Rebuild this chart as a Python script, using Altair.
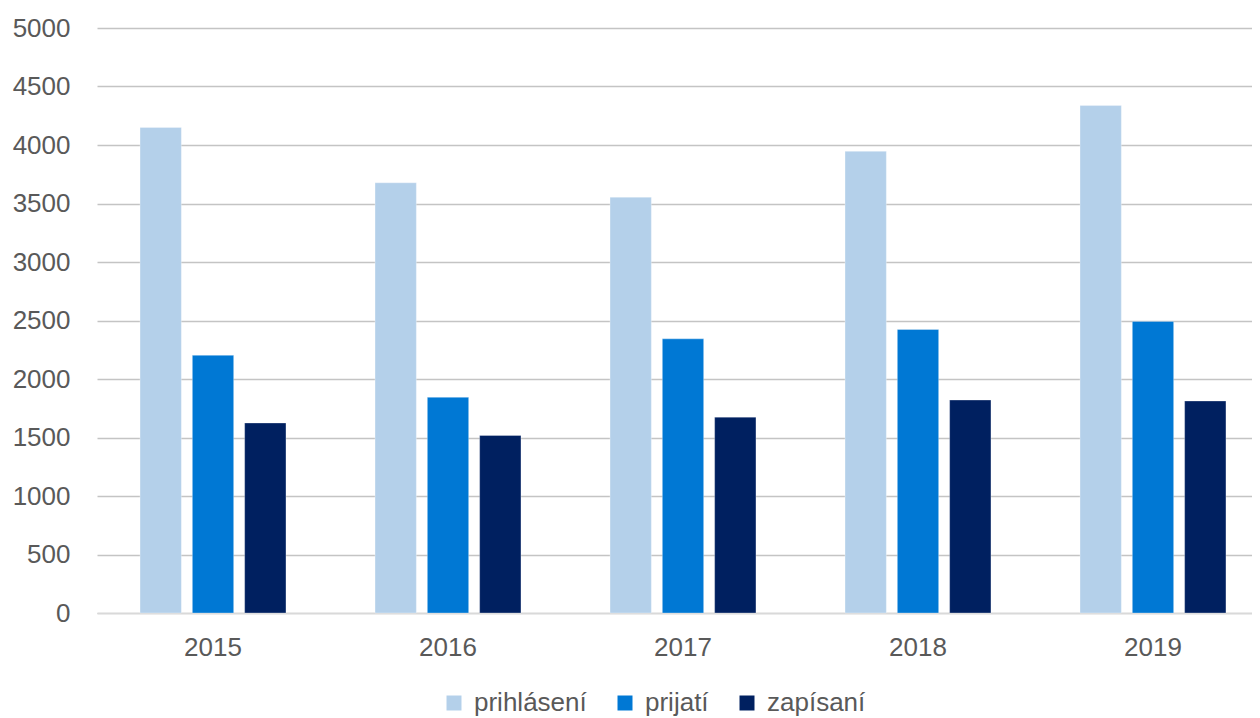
import altair as alt
import pandas as pd

years = ["2015", "2016", "2017", "2018", "2019"]
series = ["prihlásení", "prijatí", "zapísaní"]
prihlaseni = [4150, 3677, 3554, 3946, 4337]
prijati = [2202, 1843, 2343, 2423, 2492]
zapisani = [1624, 1517, 1674, 1820, 1812]
colors = ["#B4D0EA", "#0078D4", "#002060"]

rows = []
for i, y in enumerate(years):
    for s, vals in zip(series, [prihlaseni, prijati, zapisani]):
        rows.append({"rok": y, "skupina": s, "pocet": vals[i]})
df = pd.DataFrame(rows)

FONT = "Liberation Sans"
TXT = "#595959"

chart = alt.Chart(df).mark_bar(stroke="white", strokeWidth=0.6, strokeOpacity=0.5).encode(
    x=alt.X("rok:N", sort=years, title=None,
            scale=alt.Scale(paddingInner=0.379, paddingOuter=0.147, align=0.623),
            axis=alt.Axis(labelAngle=0, ticks=False, domainColor="#D9D9D9", domainWidth=1.5,
                          labelPadding=21, labelFontSize=26, labelColor=TXT, labelFont=FONT,
                          grid=False)),
    xOffset=alt.XOffset("skupina:N", sort=series,
                        scale=alt.Scale(paddingInner=0.21, paddingOuter=0)),
    y=alt.Y("pocet:Q", title=None,
            scale=alt.Scale(domain=[0, 5000], nice=False),
            axis=alt.Axis(values=list(range(0, 5001, 500)), format="d", ticks=False, domain=False,
                          gridColor="#C4C4C4", gridWidth=1.5,
                          labelPadding=27, labelFontSize=26, labelColor=TXT, labelFont=FONT,
                          minExtent=89, maxExtent=89)),
    color=alt.Color("skupina:N", sort=series, title=None,
                    scale=alt.Scale(domain=series, range=colors),
                    legend=alt.Legend(orient="none", legendX=344, legendY=662, direction="horizontal",
                                      symbolType="square", symbolSize=225, symbolStrokeWidth=0,
                                      labelFontSize=26, labelColor=TXT, labelFont=FONT,
                                      columnPadding=25, labelOffset=7)),
).properties(
    width=1155, height=585,
    padding={"left": 0, "top": 7, "right": 0, "bottom": 0},
).configure_view(stroke=None)

chart.save("out.html", embed_options={"renderer": "svg", "actions": False})
